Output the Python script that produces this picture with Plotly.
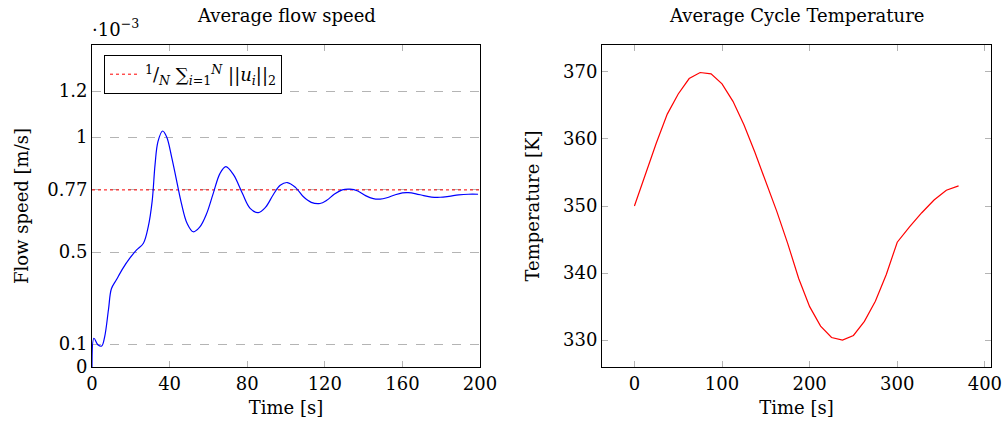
import plotly.graph_objects as go

FONT = "DejaVu Serif"
GRAY = "#b4b4b4"

# average flow speed (x1e-3 m/s)
flow_t = [0, 1, 3, 5, 6.5, 8.5, 10, 12.5, 16, 19.5, 23, 26.5, 29, 31, 32.5, 34,
          36.4, 38.5, 41, 43.5, 46, 49, 52.2, 55.5, 59, 62.5, 66, 69, 73, 77.5,
          81.5, 85.7, 89.5, 93.5, 97, 100.7, 105, 109, 113, 117.5, 121, 125,
          129, 133, 137, 141, 145, 148.5, 152, 156, 160, 163, 167, 171, 175,
          179.4, 184, 189, 194, 199]
flow_v = [0, 0.125, 0.097, 0.091, 0.13, 0.25, 0.34, 0.378, 0.43, 0.473, 0.509,
          0.538, 0.61, 0.72, 0.88, 0.98, 1.026, 1.0, 0.915, 0.815, 0.715, 0.625,
          0.588, 0.608, 0.665, 0.755, 0.842, 0.871, 0.835, 0.755, 0.69, 0.671,
          0.695, 0.75, 0.79, 0.802, 0.78, 0.74, 0.716, 0.711, 0.725, 0.752,
          0.77, 0.773, 0.765, 0.745, 0.732, 0.73, 0.736, 0.748, 0.757, 0.758,
          0.753, 0.745, 0.739, 0.738, 0.742, 0.748, 0.751, 0.751]
mean_v = 0.77
flow_ticks = [0, 0.1, 0.5, 0.77, 1, 1.2]
flow_tick_text = ["0", "0.1", "0.5", "0.77", "1", "1.2"]

# average cycle temperature (K)
temp_t = [0, 12.5, 25, 37.5, 50, 62.5, 75, 87.5, 100, 112.5, 125, 137.5, 150,
          162.5, 175, 187.5, 200, 212.5, 225, 237.5, 250, 262.5, 275, 287.5,
          300, 314, 328, 342, 356, 370]
temp_v = [350.0, 354.8, 359.4, 363.7, 366.7, 369.0, 369.9, 369.7, 368.2, 365.6,
          362.1, 358.0, 353.7, 349.2, 344.4, 339.2, 335.0, 332.1, 330.4, 330.0,
          330.7, 332.8, 335.8, 339.8, 344.6, 346.9, 349.0, 350.9, 352.35, 353.0]

W, H = 1005, 434

fig = go.Figure()
fig.add_trace(go.Scatter(x=[0, 200], y=[mean_v, mean_v], mode="lines",
                         line=dict(color="#ff0000", width=1, dash="dot"),
                         name="<sup>1</sup>/<sub><i>N</i></sub> ∑<sub><i>i</i>=1</sub><sup><i>N</i></sup> ||<i>u<sub>i</sub></i>||<sub>2</sub>",
                         xaxis="x", yaxis="y"))
fig.add_trace(go.Scatter(x=flow_t, y=flow_v, mode="lines", line_shape="spline",
                         line=dict(color="#0000ff", width=1.2), showlegend=False,
                         xaxis="x", yaxis="y"))
fig.add_trace(go.Scatter(x=temp_t, y=temp_v, mode="lines",
                         line=dict(color="#ff0000", width=1.2), showlegend=False,
                         xaxis="x2", yaxis="y2"))

ydom = [1 - 367 / H, 1 - 45 / H]
ax = dict(showline=True, linecolor="black", linewidth=1, mirror="allticks",
          ticks="inside", ticklen=6, tickcolor=GRAY, zeroline=False,
          automargin=False,
          tickfont=dict(family=FONT, size=18, color="black"),
          title_font=dict(family=FONT, size=18, color="black"))

fig.update_layout(
    width=W, height=H, margin=dict(l=0, r=0, t=0, b=0),
    paper_bgcolor="white", plot_bgcolor="white",
    font=dict(family=FONT, size=18, color="black"),
    xaxis=dict(ax, domain=[92 / W, 480 / W], range=[0, 200], dtick=40, tick0=0,
               showgrid=False, title=dict(text="Time [s]", standoff=8),
               anchor="y"),
    yaxis=dict(ax, domain=ydom, range=[0, 1.4], tickvals=flow_ticks,
               ticktext=flow_tick_text, ticks="", showgrid=True,
               gridcolor=GRAY, griddash="dash", gridwidth=1,
               title=dict(text="Flow speed [m/s]", standoff=14), anchor="x"),
    xaxis2=dict(ax, domain=[602 / W, 991 / W], range=[-37, 407], dtick=100,
                tick0=0, showgrid=False, title=dict(text="Time [s]", standoff=8),
                anchor="y2"),
    yaxis2=dict(ax, domain=ydom, range=[326, 374], dtick=10, tick0=330,
                showgrid=False, title=dict(text="Temperature [K]", standoff=18),
                anchor="x2"),
    legend=dict(x=104 / W, y=1 - 55 / H, xanchor="left", yanchor="top",
                bordercolor="black", borderwidth=1, bgcolor="white",
                itemwidth=30, font=dict(family=FONT, size=18, color="black")),
    showlegend=True,
)

fig.add_annotation(text="Average flow speed", x=(92 + 480) / 2 / W, y=1 - 16 / H,
                   xref="paper", yref="paper", xanchor="center", yanchor="middle",
                   showarrow=False, font=dict(family=FONT, size=18))
fig.add_annotation(text="Average Cycle Temperature", x=(602 + 991) / 2 / W,
                   y=1 - 16 / H, xref="paper", yref="paper", xanchor="center",
                   yanchor="middle", showarrow=False, font=dict(family=FONT, size=18))
fig.add_annotation(text="·10<sup>−3</sup>", x=90 / W, y=1 - 28 / H,
                   xref="paper", yref="paper", xanchor="left", yanchor="middle",
                   showarrow=False, font=dict(family=FONT, size=18))

fig.write_html("out.html", config={"displayModeBar": False},
               post_script="document.body.style.margin='0px';")
